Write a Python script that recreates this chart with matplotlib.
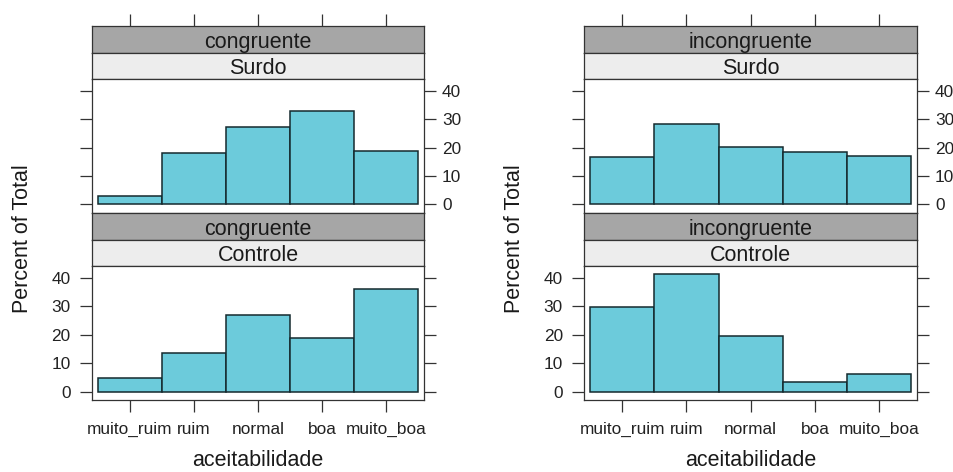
import matplotlib
matplotlib.use('Agg')
import matplotlib.pyplot as plt
import numpy as np

categories = ['muito_ruim', 'ruim', 'normal', 'boa', 'muito_boa']
conditions = ['congruente', 'incongruente']
groups = ['Surdo', 'Controle']
congruente_surdo = [3.1, 18.0, 27.1, 32.9, 18.9]
congruente_controle = [4.7, 13.5, 26.8, 18.9, 36.0]
incongruente_surdo = [16.6, 28.1, 20.1, 18.4, 17.0]
incongruente_controle = [29.6, 41.3, 19.6, 3.3, 6.2]
y_ticks = [0, 10, 20, 30, 40]
x_label = 'aceitabilidade'
y_label = 'Percent of Total'

plt.rcParams['font.family'] = ['Liberation Sans', 'DejaVu Sans']

W, H = 954, 472
fig = plt.figure(figsize=(W / 100, H / 100), dpi=100)


def rect(x0, y0, x1, y1):
    return [x0 / W, 1 - y1 / H, (x1 - x0) / W, (y1 - y0) / H]


BAR = '#6CCBDB'
DARK_STRIP = '#A6A6A6'
LIGHT_STRIP = '#EDEDED'
LINE = '#333333'
BASE_FS = 15.5
TICK_FS = 12.4
TLEN = 8.5
XLIM = (0.41, 5.59)
YLIM = (-2.85, 44.1)

plots = [
    (92, 424, conditions[0], {'Surdo': congruente_surdo, 'Controle': congruente_controle}),
    (584.3, 917, conditions[1], {'Surdo': incongruente_surdo, 'Controle': incongruente_controle}),
]

# rows: (dark strip y0,y1), (light strip y0,y1), (panel y0,y1)
rows = [
    ((26, 52.5), (52.5, 79), (79, 212.5)),
    ((212.5, 239.5), (239.5, 266), (266, 400)),
]

xpos = np.arange(1, len(categories) + 1)


def style_spines(ax):
    for s in ax.spines.values():
        s.set_color(LINE)
        s.set_linewidth(0.9)


for (x0, x1, cond, data) in plots:
    for r, grp in enumerate(groups):
        (d0, d1), (l0, l1), (p0, p1) = rows[r]
        # dark strip
        sa = fig.add_axes(rect(x0, d0, x1, d1))
        sa.set_facecolor(DARK_STRIP)
        sa.set_xlim(*XLIM)
        sa.set_ylim(0, 1)
        sa.set_yticks([])
        style_spines(sa)
        sa.text(0.5, 0.17, cond, transform=sa.transAxes, ha='center', va='baseline',
                fontsize=BASE_FS, color='#1a1a1a')
        if r == 0:
            sa.set_xticks(xpos)
            sa.tick_params(axis='x', top=True, bottom=False, labeltop=False, labelbottom=False,
                           direction='out', length=TLEN, width=0.9, color=LINE)
        else:
            sa.set_xticks([])
        # light strip
        la = fig.add_axes(rect(x0, l0, x1, l1))
        la.set_facecolor(LIGHT_STRIP)
        la.set_xticks([])
        la.set_yticks([])
        style_spines(la)
        la.text(0.5, 0.17, grp, transform=la.transAxes, ha='center', va='baseline',
                fontsize=BASE_FS, color='#1a1a1a')
        # panel
        ax = fig.add_axes(rect(x0, p0, x1, p1))
        ax.bar(xpos, data[grp], width=1.0, color=BAR, edgecolor='#152a2e', linewidth=1.1)
        ax.set_xlim(*XLIM)
        ax.set_ylim(*YLIM)
        style_spines(ax)
        ax.set_yticks(y_ticks)
        ax.set_yticklabels([str(v) for v in y_ticks])
        if r == 0:
            ax.tick_params(axis='y', left=True, right=True, labelleft=False, labelright=True,
                           direction='out', length=TLEN, width=0.9, color=LINE,
                           labelsize=TICK_FS, labelcolor='#222222', pad=4.5)
            ax.set_xticks([])
        else:
            ax.tick_params(axis='y', left=True, right=True, labelleft=True, labelright=False,
                           direction='out', length=TLEN, width=0.9, color=LINE,
                           labelsize=TICK_FS, labelcolor='#222222', pad=7)
            ax.set_xticks(xpos)
            ax.set_xticklabels(categories)
            ax.tick_params(axis='x', bottom=True, top=False, direction='out', length=TLEN,
                           width=0.9, color=LINE, labelsize=TICK_FS, labelcolor='#222222', pad=7)

    cx = (x0 + x1) / 2
    fig.text(cx / W, 1 - 466.5 / H, x_label, ha='center', va='baseline',
             fontsize=BASE_FS, color='#1a1a1a')
    fig.text((x0 - 69.5) / W, 1 - 239 / H, y_label, ha='center', va='center', rotation=90,
             fontsize=BASE_FS, color='#1a1a1a')

fig.savefig('out.png', dpi=100, facecolor='white')
